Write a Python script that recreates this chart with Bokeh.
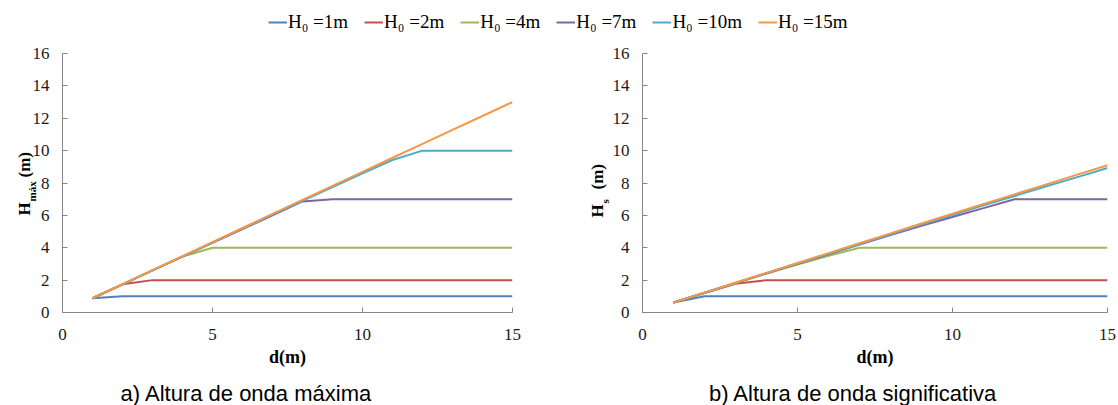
import math
from bokeh.plotting import figure
from bokeh.layouts import column, row
from bokeh.models import Range1d, FixedTicker, Legend, LegendItem, Label
from bokeh.embed import file_html
from bokeh.resources import INLINE

# ---------------- data ----------------
d = [1, 2, 3, 4, 5, 6, 7, 8, 9, 10, 11, 12, 13, 14, 15]
series_labels = ["H\u2080 =1m", "H\u2080 =2m", "H\u2080 =4m", "H\u2080 =7m", "H\u2080 =10m", "H\u2080 =15m"]
colors = ["#4F81BD", "#C0504D", "#9BBB59", "#8064A2", "#4BACC6", "#F79646"]

hmax_1 = [0.88, 1.0, 1.0, 1.0, 1.0, 1.0, 1.0, 1.0, 1.0, 1.0, 1.0, 1.0, 1.0, 1.0, 1.0]
hmax_2 = [0.88, 1.74, 2.0, 2.0, 2.0, 2.0, 2.0, 2.0, 2.0, 2.0, 2.0, 2.0, 2.0, 2.0, 2.0]
hmax_4 = [0.88, 1.74, 2.6, 3.45, 4.0, 4.0, 4.0, 4.0, 4.0, 4.0, 4.0, 4.0, 4.0, 4.0, 4.0]
hmax_7 = [0.88, 1.74, 2.6, 3.45, 4.3, 5.15, 6.0, 6.86, 7.0, 7.0, 7.0, 7.0, 7.0, 7.0, 7.0]
hmax_10 = [0.88, 1.74, 2.6, 3.47, 4.33, 5.18, 6.05, 6.9, 7.75, 8.6, 9.42, 10.0, 10.0, 10.0, 10.0]
hmax_15 = [0.88, 1.75, 2.62, 3.48, 4.35, 5.22, 6.09, 6.96, 7.82, 8.69, 9.56, 10.42, 11.28, 12.14, 13.0]

hs_1 = [0.62, 1.0, 1.0, 1.0, 1.0, 1.0, 1.0, 1.0, 1.0, 1.0, 1.0, 1.0, 1.0, 1.0, 1.0]
hs_2 = [0.62, 1.2, 1.78, 2.0, 2.0, 2.0, 2.0, 2.0, 2.0, 2.0, 2.0, 2.0, 2.0, 2.0, 2.0]
hs_4 = [0.62, 1.21, 1.81, 2.41, 2.96, 3.5, 4.0, 4.0, 4.0, 4.0, 4.0, 4.0, 4.0, 4.0, 4.0]
hs_7 = [0.62, 1.22, 1.82, 2.42, 3.01, 3.6, 4.2, 4.78, 5.35, 5.9, 6.45, 7.0, 7.0, 7.0, 7.0]
hs_10 = [0.62, 1.22, 1.83, 2.43, 3.03, 3.63, 4.23, 4.83, 5.43, 6.02, 6.62, 7.2, 7.78, 8.35, 8.93]
hs_15 = [0.62, 1.23, 1.84, 2.45, 3.06, 3.67, 4.28, 4.89, 5.5, 6.1, 6.7, 7.3, 7.9, 8.5, 9.1]

hmax_series = [hmax_1, hmax_2, hmax_4, hmax_7, hmax_10, hmax_15]
hs_series = [hs_1, hs_2, hs_4, hs_7, hs_10, hs_15]

x_ticks = [0, 5, 10, 15]
y_ticks = [0, 2, 4, 6, 8, 10, 12, 14, 16]

SERIF = "Liberation Serif"
SANS = "Liberation Sans"
AXIS_GRAY = "#868686"


def blank_fig(w, h, **kw):
    f = figure(width=w, height=h, output_backend="svg", toolbar_location=None,
               x_range=Range1d(0, 1), y_range=Range1d(0, 1), min_border=0, **kw)
    f.axis.visible = False
    f.grid.visible = False
    f.outline_line_color = None
    return f


def make_panel(series, left_border, right_border, frame_h):
    p = figure(width=559, height=330, output_backend="svg", toolbar_location=None,
               x_range=Range1d(0, 15), y_range=Range1d(0, 16),
               min_border_left=left_border, min_border_right=right_border,
               min_border_top=13, min_border_bottom=330 - 13 - frame_h)
    p.outline_line_color = None
    p.grid.visible = False
    for vals, c in zip(series, colors):
        p.line(d, vals, line_color=c, line_width=2)
    for ax in (p.xaxis[0], p.yaxis[0]):
        ax.axis_line_color = AXIS_GRAY
        ax.major_tick_line_color = AXIS_GRAY
        ax.major_tick_in = 5
        ax.major_tick_out = 0
        ax.minor_tick_line_color = None
        ax.major_label_text_font = SERIF
        ax.major_label_text_font_size = "17px"
        ax.major_label_text_color = "#1a1a1a"
    p.xaxis[0].ticker = FixedTicker(ticks=x_ticks)
    p.yaxis[0].ticker = FixedTicker(ticks=y_ticks)
    p.xaxis[0].major_label_standoff = 16
    p.yaxis[0].major_label_standoff = 13
    p.xaxis[0].axis_label = "d(m)"
    p.xaxis[0].axis_label_text_font = SERIF
    p.xaxis[0].axis_label_text_font_style = "bold"
    p.xaxis[0].axis_label_text_font_size = "18px"
    p.xaxis[0].axis_label_text_color = "#000000"
    p.xaxis[0].axis_label_standoff = 4
    return p


def ylabel_overlay(width, margin, base_x, y_h, y_sub, y_m, sub):
    f = blank_fig(width, 330, margin=margin)
    f.border_fill_alpha = 0
    f.background_fill_alpha = 0
    common = dict(x_units="screen", y_units="screen", angle=math.pi / 2,
                  text_font=SERIF, text_font_style="bold", text_color="#000000",
                  text_align="left", text_baseline="alphabetic")
    f.add_layout(Label(x=base_x, y=y_h, text="H", text_font_size="17px", **common))
    f.add_layout(Label(x=base_x + 7, y=y_sub, text=sub, text_font_size="11px", **common))
    f.add_layout(Label(x=base_x, y=y_m, text="(m)", text_font_size="17px", **common))
    return f


pa = make_panel(hmax_series, 62, 47, 262)
pb = make_panel(hs_series, 83, 11, 259)
# transparent overlays carrying the rotated y titles (with subscripts) over each panel's left margin
la = ylabel_overlay(60, (0, 559 - 60, 0, -559), 24, 97, 111, 135, "máx")
lb = ylabel_overlay(70, (0, 559 - 70, 0, -559), 38, 95, 109, 123, "s")

# ---------------- legend strip ----------------
leg = figure(width=1118, height=40, output_backend="svg", toolbar_location=None,
             x_range=Range1d(100, 101), y_range=Range1d(100, 101), min_border=0)
leg.axis.visible = False
leg.grid.visible = False
leg.outline_line_color = None
items = []
for vals, c, lab in zip(hmax_series, colors, series_labels):
    r = leg.line(d, vals, line_color=c, line_width=2)
    items.append(LegendItem(label=lab, renderers=[r]))
legend = Legend(items=items, orientation="horizontal", location=(268, 7),
                label_text_font=SERIF, label_text_font_size="19px", label_text_color="#000000",
                glyph_width=19, glyph_height=16, label_standoff=1, spacing=16, padding=0,
                margin=0, border_line_color=None, background_fill_alpha=0)
leg.add_layout(legend, "center")

# ---------------- captions ----------------
cap = blank_fig(1118, 35)
cap.add_layout(Label(x=120, y=12, x_units="screen", y_units="screen", text="a) Altura de onda máxima",
                     text_font=SANS, text_font_size="22px", text_color="#000000",
                     text_align="left", text_baseline="middle"))
cap.add_layout(Label(x=997, y=12, x_units="screen", y_units="screen", text="b) Altura de onda significativa",
                     text_font=SANS, text_font_size="22px", text_color="#000000",
                     text_align="right", text_baseline="middle"))

layout = column(leg, row(pa, la, pb, lb), cap)
open("out.html", "w").write(file_html(layout, INLINE))
